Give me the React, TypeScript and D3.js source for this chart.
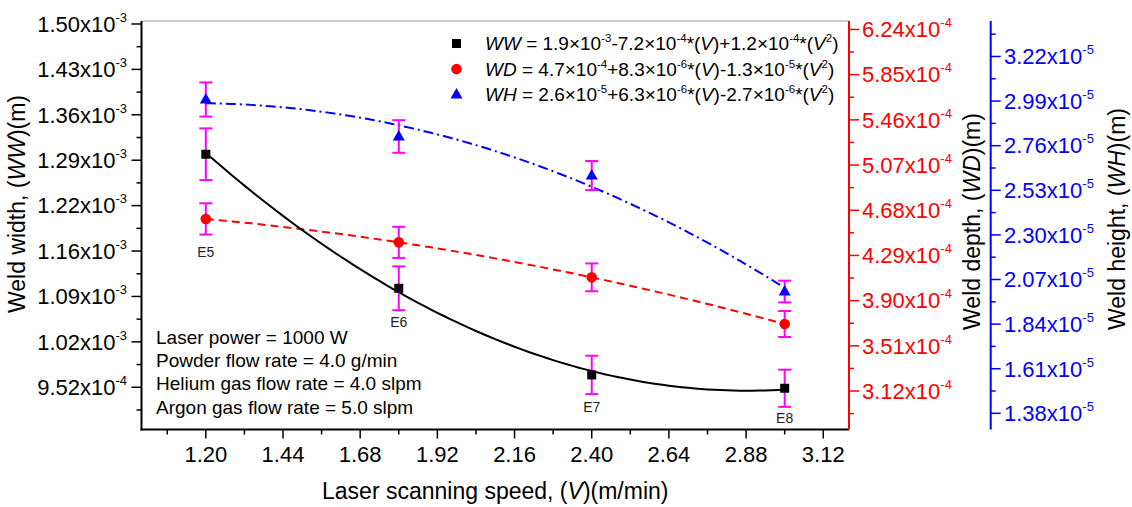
import React from "react";
import * as d3 from "d3";

// ---------- data ----------
const speeds = [1.2, 1.8, 2.4, 3.0];
const sampleNames = ["E5", "E6", "E7", "E8"];
// vertical anchor of the sample labels, in weld-width units
const sampleLabelY = [1.1565e-3, 1.0509e-3, 0.9227e-3, 0.9053e-3];

const wwMean = [1.3035e-3, 1.1013e-3, 0.9706e-3, 0.9505e-3];
const wwErr = [0.039e-3, 0.033e-3, 0.029e-3, 0.028e-3];
const wdMean = [4.605e-4, 4.403e-4, 4.101e-4, 3.698e-4];
const wdErr = [0.135e-4, 0.134e-4, 0.12e-4, 0.112e-4];
const whMean = [2.998e-5, 2.8075e-5, 2.606e-5, 2.008e-5];
const whErr = [0.088e-5, 0.084e-5, 0.075e-5, 0.056e-5];

const xTicks = [1.2, 1.44, 1.68, 1.92, 2.16, 2.4, 2.64, 2.88, 3.12];
const xTickLabels = ["1.20", "1.44", "1.68", "1.92", "2.16", "2.40", "2.64", "2.88", "3.12"];
const xMinor = [1.08, 1.32, 1.56, 1.8, 2.04, 2.28, 2.52, 2.76, 3.0];

const leftTicks = [0.952e-3, 1.0205e-3, 1.089e-3, 1.1575e-3, 1.226e-3, 1.2945e-3, 1.363e-3, 1.4315e-3, 1.5e-3];
const leftMant = ["9.52", "1.02", "1.09", "1.16", "1.22", "1.29", "1.36", "1.43", "1.50"];
const leftExp = ["-4", "-3", "-3", "-3", "-3", "-3", "-3", "-3", "-3"];
const leftMinor = [0.91775e-3, 0.98625e-3, 1.05475e-3, 1.12325e-3, 1.19175e-3, 1.26025e-3, 1.32875e-3, 1.39725e-3, 1.46575e-3];

const redTicks = [3.12e-4, 3.51e-4, 3.9e-4, 4.29e-4, 4.68e-4, 5.07e-4, 5.46e-4, 5.85e-4, 6.24e-4];
const redMant = ["3.12", "3.51", "3.90", "4.29", "4.68", "5.07", "5.46", "5.85", "6.24"];
const redExp = "-4";
const redMinor = [2.925e-4, 3.315e-4, 3.705e-4, 4.095e-4, 4.485e-4, 4.875e-4, 5.265e-4, 5.655e-4, 6.045e-4];

const blueTicks = [1.38e-5, 1.61e-5, 1.84e-5, 2.07e-5, 2.3e-5, 2.53e-5, 2.76e-5, 2.99e-5, 3.22e-5];
const blueMant = ["1.38", "1.61", "1.84", "2.07", "2.30", "2.53", "2.76", "2.99", "3.22"];
const blueExp = "-5";
const blueMinor = [1.495e-5, 1.725e-5, 1.955e-5, 2.185e-5, 2.415e-5, 2.645e-5, 2.875e-5, 3.105e-5, 3.335e-5];

const conditions = [
  "Laser power = 1000 W",
  "Powder flow rate = 4.0 g/min",
  "Helium gas flow rate = 4.0 slpm",
  "Argon gas flow rate = 5.0 slpm",
];

// legend segments: [text, kind] kind: n normal, i italic, s superscript
type Seg = [string, "n" | "i" | "s"];
const legendWW: Seg[] = [["WW", "i"], [" = 1.9×10", "n"], ["-3", "s"], ["-7.2×10", "n"], ["-4", "s"], ["*(", "n"], ["V", "i"], [")+1.2×10", "n"], ["-4", "s"], ["*(", "n"], ["V", "i"], ["2", "s"], [")", "n"]];
const legendWD: Seg[] = [["WD", "i"], [" = 4.7×10", "n"], ["-4", "s"], ["+8.3×10", "n"], ["-6", "s"], ["*(", "n"], ["V", "i"], [")-1.3×10", "n"], ["-5", "s"], ["*(", "n"], ["V", "i"], ["2", "s"], [")", "n"]];
const legendWH: Seg[] = [["WH", "i"], [" = 2.6×10", "n"], ["-5", "s"], ["+6.3×10", "n"], ["-6", "s"], ["*(", "n"], ["V", "i"], [")-2.7×10", "n"], ["-6", "s"], ["*(", "n"], ["V", "i"], ["2", "s"], [")", "n"]];

// ---------- helpers ----------
function quadFit(xs: number[], ys: number[]) {
  // least squares y = a + b x + c x^2
  const n = xs.length;
  const s = [0, 0, 0, 0, 0];
  const t = [0, 0, 0];
  for (let i = 0; i < n; i++) {
    const x = xs[i], y = ys[i];
    for (let k = 0; k < 5; k++) s[k] += Math.pow(x, k);
    for (let k = 0; k < 3; k++) t[k] += y * Math.pow(x, k);
  }
  const M = [
    [s[0], s[1], s[2], t[0]],
    [s[1], s[2], s[3], t[1]],
    [s[2], s[3], s[4], t[2]],
  ];
  for (let i = 0; i < 3; i++) {
    let p = i;
    for (let r = i + 1; r < 3; r++) if (Math.abs(M[r][i]) > Math.abs(M[p][i])) p = r;
    [M[i], M[p]] = [M[p], M[i]];
    for (let r = 0; r < 3; r++) {
      if (r === i) continue;
      const f = M[r][i] / M[i][i];
      for (let c = i; c < 4; c++) M[r][c] -= f * M[i][c];
    }
  }
  const a = M[0][3] / M[0][0], b = M[1][3] / M[1][1], c = M[2][3] / M[2][2];
  return (x: number) => a + b * x + c * x * x;
}

const FONT = "'Liberation Sans', Arial, Helvetica, sans-serif";

function SciLabel(props: { x: number; y: number; mant: string; exp: string; anchor: string; fill: string }) {
  const { x, y, mant, exp, anchor, fill } = props;
  return (
    <text x={x} y={y} textAnchor={anchor} fill={fill} fontFamily={FONT} fontSize={22}>
      <tspan>{mant + "x10"}</tspan>
      <tspan fontSize={13} dy={-10}>{exp}</tspan>
    </text>
  );
}

function LegendText(props: { x: number; y: number; segs: Seg[] }) {
  const { x, y, segs } = props;
  let raised = false;
  const parts: React.ReactNode[] = [];
  segs.forEach((sg, i) => {
    const [txt, kind] = sg;
    let dy = 0;
    if (kind === "s" && !raised) { dy = -8; raised = true; }
    else if (kind !== "s" && raised) { dy = 8; raised = false; }
    parts.push(
      <tspan key={i} dy={dy} fontSize={kind === "s" ? 11.5 : 19} fontStyle={kind === "i" ? "italic" : "normal"}>
        {txt}
      </tspan>
    );
  });
  return (
    <text x={x} y={y} fontFamily={FONT} fill="#000">
      {parts}
    </text>
  );
}

export default function App() {
  const W = 1132, H = 507;
  const left = 141.5, right = 849, top = 21, bottom = 429.5;

  const x = d3.scaleLinear().domain([1.0, 3.2]).range([left, right]);
  const yL = d3.scaleLinear().domain([0.8883e-3, 1.5045e-3]).range([bottom, top]);
  const yR = d3.scaleLinear().domain([2.788e-4, 6.313e-4]).range([bottom, top]);
  const yB = d3.scaleLinear().domain([1.2965e-5, 3.403e-5]).range([bottom, top]);
  const blueAxisX = 990.7;

  const fitWW = quadFit(speeds, wwMean);
  const fitWD = quadFit(speeds, wdMean);
  const fitWH = quadFit(speeds, whMean);
  const xs = d3.range(speeds[0], speeds[speeds.length - 1] + 1e-9, 0.02);

  const lineGen = (f: (v: number) => number, ys: d3.ScaleLinear<number, number>) =>
    d3.line<number>().x((v) => x(v)).y((v) => ys(f(v))).curve(d3.curveLinear)(xs) || "";

  const errBar = (xv: number, m: number, e: number, ys: d3.ScaleLinear<number, number>, key: string) => {
    const cx = x(xv), y1 = ys(m + e), y2 = ys(m - e);
    return (
      <g key={key} stroke="#FF00FF" strokeWidth={2}>
        <line x1={cx} x2={cx} y1={y1} y2={y2} />
        <line x1={cx - 6.5} x2={cx + 6.5} y1={y1} y2={y1} />
        <line x1={cx - 6.5} x2={cx + 6.5} y1={y2} y2={y2} />
      </g>
    );
  };

  const tri = (cx: number, cy: number) => `M${cx},${cy - 6.5}L${cx + 6},${cy + 4}L${cx - 6},${cy + 4}Z`;

  return (
    <svg width={W} height={H} style={{ position: "absolute", left: 0, top: 0, background: "#fff" }}>
      <rect x={0} y={0} width={W} height={H} fill="#fff" />
      {/* top frame */}
      <line x1={left} x2={right} y1={top} y2={top} stroke="#9a9a9a" strokeWidth={1} />

      {/* fit lines */}
      <path d={lineGen(fitWH, yB)} fill="none" stroke="#0000FF" strokeWidth={2} strokeDasharray="10,4,2,4" />
      <path d={lineGen(fitWD, yR)} fill="none" stroke="#FF0000" strokeWidth={2} strokeDasharray="8,5" />
      <path d={lineGen(fitWW, yL)} fill="none" stroke="#000" strokeWidth={2} />

      {/* error bars */}
      {speeds.map((v, i) => errBar(v, wwMean[i], wwErr[i], yL, "eww" + i))}
      {speeds.map((v, i) => errBar(v, wdMean[i], wdErr[i], yR, "ewd" + i))}
      {speeds.map((v, i) => errBar(v, whMean[i], whErr[i], yB, "ewh" + i))}

      {/* markers */}
      {speeds.map((v, i) => (
        <rect key={"sq" + i} x={x(v) - 4.5} y={yL(wwMean[i]) - 4.5} width={9} height={9} fill="#000" />
      ))}
      {speeds.map((v, i) => (
        <circle key={"ci" + i} cx={x(v)} cy={yR(wdMean[i])} r={5.3} fill="#FF0000" />
      ))}
      {speeds.map((v, i) => (
        <path key={"tr" + i} d={tri(x(v), yB(whMean[i]))} fill="#0000FF" />
      ))}

      {/* sample labels */}
      {speeds.map((v, i) => (
        <text key={"sl" + i} x={x(v)} y={yL(sampleLabelY[i])} dy="0.36em" textAnchor="middle" fontFamily={FONT} fontSize={14} fill="#222">
          {sampleNames[i]}
        </text>
      ))}

      {/* conditions */}
      {conditions.map((c, i) => (
        <text key={"c" + i} x={156} y={337 + i * 23.3} dy="0.36em" fontFamily={FONT} fontSize={19} fill="#000">
          {c}
        </text>
      ))}

      {/* legend */}
      <rect x={452} y={39} width={9} height={9} fill="#000" />
      <circle cx={456.5} cy={69} r={5.3} fill="#FF0000" />
      <path d={tri(456.5, 94.5)} fill="#0000FF" />
      <LegendText x={485} y={50} segs={legendWW} />
      <LegendText x={485} y={75.5} segs={legendWD} />
      <LegendText x={485} y={100.5} segs={legendWH} />

      {/* bottom axis */}
      <line x1={left - 1} x2={right} y1={bottom} y2={bottom} stroke="#000" strokeWidth={2} />
      {xTicks.map((t, i) => (
        <g key={"xt" + i}>
          <line x1={x(t)} x2={x(t)} y1={bottom} y2={bottom + 9} stroke="#000" strokeWidth={1.5} />
          <text x={x(t)} y={462} textAnchor="middle" fontFamily={FONT} fontSize={22} fill="#000">
            {xTickLabels[i]}
          </text>
        </g>
      ))}
      {xMinor.map((t, i) => (
        <line key={"xm" + i} x1={x(t)} x2={x(t)} y1={bottom} y2={bottom + 5} stroke="#000" strokeWidth={1.5} />
      ))}
      <text x={(left + right) / 2} y={499} textAnchor="middle" fontFamily={FONT} fontSize={23} fill="#000">
        Laser scanning speed, (<tspan fontStyle="italic">V</tspan>)(m/min)
      </text>

      {/* left axis */}
      <line x1={left} x2={left} y1={top} y2={bottom + 1} stroke="#000" strokeWidth={2} />
      {leftTicks.map((t, i) => (
        <g key={"lt" + i}>
          <line x1={left - 10} x2={left} y1={yL(t)} y2={yL(t)} stroke="#000" strokeWidth={1.5} />
          <SciLabel x={127} y={yL(t) + 7.8} mant={leftMant[i]} exp={leftExp[i]} anchor="end" fill="#000" />
        </g>
      ))}
      {leftMinor.map((t, i) => (
        <line key={"lm" + i} x1={left - 5} x2={left} y1={yL(t)} y2={yL(t)} stroke="#000" strokeWidth={1.5} />
      ))}
      <text transform={`translate(25,204) rotate(-90)`} textAnchor="middle" fontFamily={FONT} fontSize={23} fill="#000">
        Weld width, (<tspan fontStyle="italic">WW</tspan>)(m)
      </text>

      {/* red right axis */}
      <line x1={right} x2={right} y1={top} y2={bottom} stroke="#FF0000" strokeWidth={2} />
      {redTicks.map((t, i) => (
        <g key={"rt" + i}>
          <line x1={right} x2={right + 10} y1={yR(t)} y2={yR(t)} stroke="#FF0000" strokeWidth={1.5} />
          <SciLabel x={862} y={yR(t) + 7.8} mant={redMant[i]} exp={redExp} anchor="start" fill="#FF0000" />
        </g>
      ))}
      {redMinor.map((t, i) => (
        <line key={"rm" + i} x1={right} x2={right + 5} y1={yR(t)} y2={yR(t)} stroke="#FF0000" strokeWidth={1.5} />
      ))}
      <text transform={`translate(980,221.5) rotate(-90)`} textAnchor="middle" fontFamily={FONT} fontSize={23} fill="#000">
        Weld depth, (<tspan fontStyle="italic">WD</tspan>)(m)
      </text>

      {/* blue right axis */}
      <line x1={blueAxisX} x2={blueAxisX} y1={top} y2={bottom} stroke="#0000FF" strokeWidth={2} />
      {blueTicks.map((t, i) => (
        <g key={"bt" + i}>
          <line x1={blueAxisX} x2={blueAxisX + 10} y1={yB(t)} y2={yB(t)} stroke="#0000FF" strokeWidth={1.5} />
          <SciLabel x={1004} y={yB(t) + 7.8} mant={blueMant[i]} exp={blueExp} anchor="start" fill="#0000FF" />
        </g>
      ))}
      {blueMinor.map((t, i) => (
        <line key={"bm" + i} x1={blueAxisX} x2={blueAxisX + 5} y1={yB(t)} y2={yB(t)} stroke="#0000FF" strokeWidth={1.5} />
      ))}
      <text transform={`translate(1125,219) rotate(-90)`} textAnchor="middle" fontFamily={FONT} fontSize={23} fill="#000">
        Weld height, (<tspan fontStyle="italic">WH</tspan>)(m)
      </text>
    </svg>
  );
}
